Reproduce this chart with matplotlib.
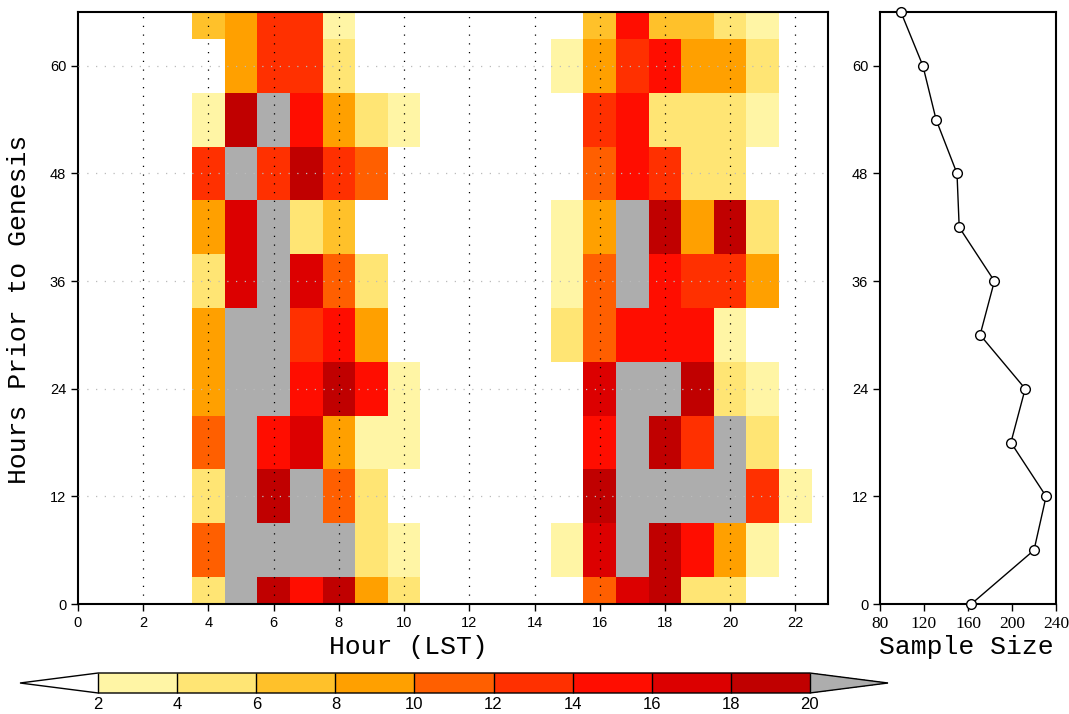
import numpy as np
import matplotlib
matplotlib.use('Agg')
import matplotlib.pyplot as plt
from matplotlib.colors import ListedColormap, BoundaryNorm

# Ejes: hora local y horas antes de la genesis
horas = np.arange(24)
horas_previas = np.arange(0, 67, 6)

# Frecuencia por hora (columnas 4-10 y 15-22), fila por cada tiempo previo
bloque_manana = [
    [5, 21, 19, 15, 19, 9, 5],
    [11, 21, 21, 21, 21, 5, 3],
    [5, 21, 19, 21, 11, 5, 0],
    [11, 21, 15, 17, 9, 3, 3],
    [9, 21, 21, 15, 19, 15, 3],
    [9, 21, 21, 13, 15, 9, 0],
    [5, 17, 21, 17, 11, 5, 0],
    [9, 17, 21, 5, 7, 0, 0],
    [13, 21, 13, 19, 13, 11, 0],
    [3, 19, 21, 15, 9, 5, 3],
    [0, 9, 13, 13, 5, 0, 0],
    [7, 9, 13, 13, 3, 0, 0],
]
bloque_tarde = [
    [0, 11, 17, 19, 5, 5, 0, 0],
    [3, 17, 21, 19, 15, 9, 3, 0],
    [0, 19, 21, 21, 21, 21, 13, 3],
    [0, 15, 21, 19, 13, 21, 5, 0],
    [0, 17, 21, 21, 19, 5, 3, 0],
    [5, 11, 15, 15, 15, 3, 0, 0],
    [3, 11, 21, 15, 13, 13, 9, 0],
    [3, 9, 21, 19, 9, 19, 5, 0],
    [0, 11, 15, 13, 5, 5, 0, 0],
    [0, 13, 15, 5, 5, 5, 3, 0],
    [3, 9, 13, 15, 9, 9, 5, 0],
    [0, 7, 15, 7, 7, 5, 3, 0],
]

# Tamano de muestra por tiempo previo
muestra = [163, 220, 231, 199, 212, 171, 184, 152, 150, 131, 119, 99]

niveles = [2, 4, 6, 8, 10, 12, 14, 16, 18, 20]
colores = ['#FFF5A5', '#FFE574', '#FFC12A', '#FFA000', '#FF5F00',
           '#FF3000', '#FF0D00', '#DC0000', '#C00000']

# Armar la matriz completa
freq = np.zeros((len(horas_previas), len(horas)))
freq[:, 4:11] = np.array(bloque_manana)
freq[:, 15:23] = np.array(bloque_tarde)

cmap = ListedColormap(colores)
cmap.set_under('white')
cmap.set_over('#ADADAD')
norm = BoundaryNorm(niveles, cmap.N)

fig = plt.figure(figsize=(10.69, 7.14), dpi=100)
ax = fig.add_axes([78 / 1069, 110 / 714, 750 / 1069, 592 / 714])
ax2 = fig.add_axes([880 / 1069, 110 / 714, 176 / 1069, 592 / 714])
cax = fig.add_axes([20 / 1069, 21 / 714, 868 / 1069, 20 / 714])

bordes_x = np.arange(-0.5, 24, 1)
bordes_y = np.arange(-3, 70, 6)
malla = ax.pcolormesh(bordes_x, bordes_y, freq, cmap=cmap, norm=norm)

ax.set_xlim(0, 23)
ax.set_ylim(0, 66)
ax.set_xticks(np.arange(0, 23, 2))
ax.set_yticks(np.arange(0, 61, 12))
for x in range(2, 23, 2):
    ax.axvline(x, color='black', lw=0.9, ls=(0, (1, 6)), zorder=3)
for y in range(12, 61, 12):
    ax.axhline(y, color='#BBBBBB', lw=0.9, ls=(0, (1, 6)), zorder=3)

for a in (ax, ax2):
    for lado in ('top', 'right', 'bottom', 'left'):
        a.spines[lado].set_linewidth(1.5)
    a.tick_params(direction='out', length=5, width=1, top=False, right=False)
    for t in a.get_yticklabels() + a.get_xticklabels():
        t.set_fontfamily('Liberation Sans')
ax.tick_params(labelsize=10.5)

ax.set_xlabel('Hour (LST)', family='Liberation Mono', fontsize=19)
ax.xaxis.set_label_coords(0.441, -0.052)
ax.set_ylabel('Hours Prior to Genesis', family='Liberation Mono', fontsize=19)
ax.yaxis.set_label_coords(-0.062, 0.498)

# Panel derecho: tamano de muestra
ax2.plot(muestra, horas_previas, color='black', lw=1, marker='o', ms=7,
         mfc='white', mec='black', mew=1, clip_on=False, zorder=4)
ax2.set_xlim(80, 240)
ax2.set_ylim(0, 66)
ax2.set_xticks([80, 120, 160, 200, 240])
ax2.set_yticks(np.arange(0, 61, 12))
ax2.tick_params(labelsize=10.5)
for t in ax2.get_xticklabels():
    t.set_fontfamily('Liberation Serif')
    t.set_fontsize(12.5)
ax2.set_xlabel('Sample Size', family='Liberation Mono', fontsize=19)
ax2.xaxis.set_label_coords(0.49, -0.052)

cb = fig.colorbar(malla, cax=cax, orientation='horizontal', extend='both',
                  extendfrac=0.11, drawedges=True, ticks=niveles)
cb.outline.set_linewidth(1)
cb.dividers.set_linewidth(1)
cb.ax.tick_params(length=0, labelsize=12, pad=3)
for t in cb.ax.get_xticklabels():
    t.set_fontfamily('Liberation Sans')

plt.savefig('out.png', dpi=100)
